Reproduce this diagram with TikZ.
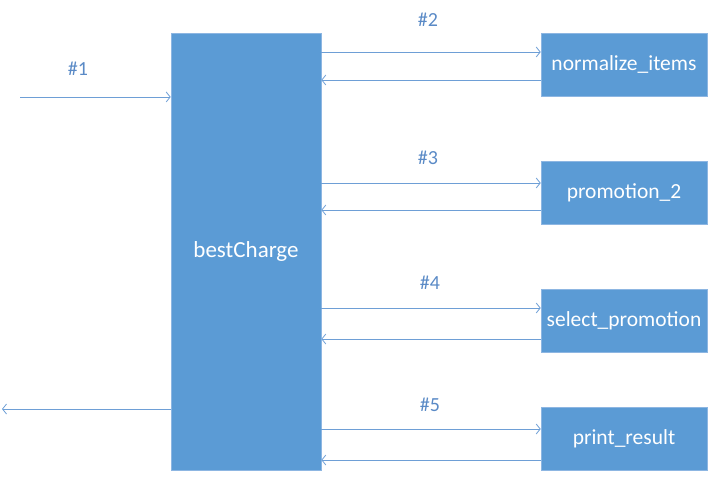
\documentclass[tikz,border=0pt]{standalone}
\usepackage{fontspec}
\setmainfont{Carlito}
\usepackage{xcolor}
\usetikzlibrary{arrows.meta}
\definecolor{boxblue}{HTML}{5B9BD5}
\definecolor{edgeblue}{HTML}{8DB6E2}
\definecolor{lineblue}{HTML}{6E9FD6}
\definecolor{labelblue}{HTML}{5A8AC6}

\tikzset{
  func/.style={fill=boxblue, draw=edgeblue, line width=0.6pt, text=white,
    minimum width=166pt, minimum height=63pt, inner sep=0pt,
    font=\fontsize{21.5}{25}\selectfont},
  flow/.style={draw=lineblue, line width=0.8pt, -{Straight Barb[length=4pt,width=10pt]}},
  tag/.style={text=labelblue, font=\fontsize{20}{24}\selectfont}
}

\begin{document}
\begin{tikzpicture}[x=1pt, y=-1pt]
      \useasboundingbox (0,0) rectangle (712,478);
      \node[func, minimum width=150pt, minimum height=437pt,
        font=\fontsize{23}{27}\selectfont] (main) at (246,251.5) {bestCharge};
      \node[func] (norm) at (624,64.5) {normalize\_items};
      \node[func] (promo) at (624,192.5) {promotion\_2};
      \node[func] (select) at (624,320.5) {select\_promotion};
      \node[func] (print) at (624,438.5) {print\_result};
      \coordinate (in) at (20,97);
      \coordinate (out) at (2,409);
      % in and out
      \draw[flow] (in) -- (main.west |- in);
      \draw[flow] (main.west |- out) -- (out);
      \node[tag] at (78,69) {\#1};
      % calls
      \draw[flow] (main.east |- 0,52) -- (norm.west |- 0,52);
      \draw[flow] (norm.west |- 0,80) -- (main.east |- 0,80);
      \node[tag] at (428,20) {\#2};
      \draw[flow] (main.east |- 0,183) -- (promo.west |- 0,183);
      \draw[flow] (promo.west |- 0,210) -- (main.east |- 0,210);
      \node[tag] at (428,158) {\#3};
      \draw[flow] (main.east |- 0,308) -- (select.west |- 0,308);
      \draw[flow] (select.west |- 0,339) -- (main.east |- 0,339);
      \node[tag] at (430,283) {\#4};
      \draw[flow] (main.east |- 0,429) -- (print.west |- 0,429);
      \draw[flow] (print.west |- 0,460) -- (main.east |- 0,460);
      \node[tag] at (430,405) {\#5};
    \end{tikzpicture}
\end{document}
